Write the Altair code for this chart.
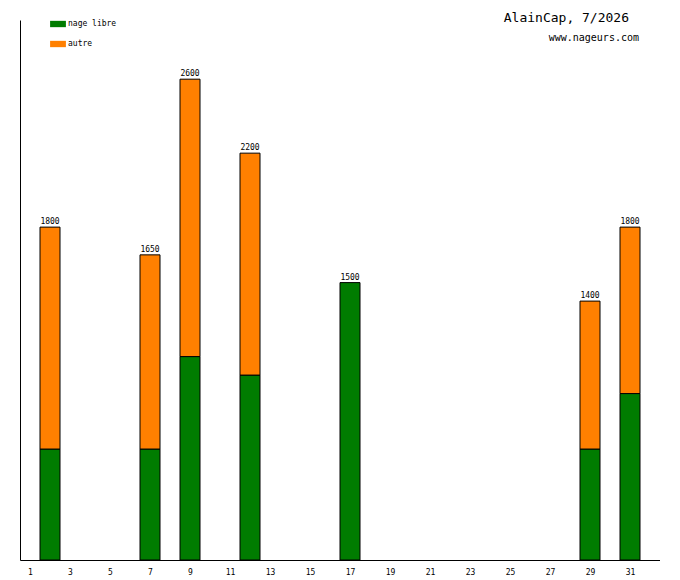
import altair as alt
import pandas as pd

days = [2, 7, 9, 12, 17, 29, 31]
nage_libre = [600, 600, 1100, 1000, 1500, 600, 900]
totals = [1800, 1650, 2600, 2200, 1500, 1400, 1800]
day_labels = list(range(1, 32))

rows = []
for d, g, t in zip(days, nage_libre, totals):
    rows.append({"day": d, "type": "nage libre", "y0": 0, "y1": g, "total": t})
    if t > g:
        rows.append({"day": d, "type": "autre", "y0": g, "y1": t, "total": t})
df = pd.DataFrame(rows)
df["x1"] = df["day"] + 1
tot = pd.DataFrame({"day": days, "total": totals})
tot["mid"] = tot["day"] + 0.5

FONT = "DejaVu Sans Mono"
xs = alt.Scale(domain=[1, 33], nice=False, zero=False)
ys = alt.Scale(domain=[0, 2920], nice=False)

bars = alt.Chart(df).mark_rect(stroke="black", strokeWidth=1).encode(
    x=alt.X("day:Q", scale=xs, title=None,
            axis=alt.Axis(values=[d + 0.5 for d in day_labels], labelExpr="floor(datum.value)",
                          ticks=False, grid=False, domainColor="black", labelFont=FONT,
                          labelFontSize=8, labelColor="black", labelPadding=8)),
    x2="x1:Q",
    y=alt.Y("y0:Q", scale=ys, title=None,
            axis=alt.Axis(labels=False, ticks=False, grid=False, domainColor="black")),
    y2="y1:Q",
    color=alt.Color("type:N", scale=alt.Scale(domain=["nage libre", "autre"], range=["#007c00", "#ff8000"]),
                    legend=alt.Legend(title=None, orient="none", legendX=30, legendY=-4,
                                      symbolType="M-1,-0.4H1V0.4H-1Z", symbolSize=250,
                                      symbolStrokeWidth=0, labelFont=FONT, labelFontSize=8,
                                      rowPadding=8, labelOffset=2)),
)

labels = alt.Chart(tot).mark_text(font=FONT, fontSize=8, dy=-5, color="black").encode(
    x=alt.X("mid:Q", scale=xs), y=alt.Y("total:Q", scale=ys), text="total:Q"
)

title = alt.Chart(pd.DataFrame({"t": ["AlainCap, 7/2026"]})).mark_text(
    font=FONT, fontSize=13, align="right", color="black"
).encode(x=alt.value(609), y=alt.value(-2), text="t:N")
site = alt.Chart(pd.DataFrame({"t": ["www.nageurs.com"]})).mark_text(
    font=FONT, fontSize=10, align="right", color="black"
).encode(x=alt.value(619), y=alt.value(18), text="t:N")

chart = alt.layer(bars, labels, title, site).properties(
    width=640, height=540, autosize=alt.AutoSizeParams(type="none"),
    padding={"left": 12, "top": 12, "right": 0, "bottom": 20},
).configure_view(stroke=None)

chart.save("out.html", embed_options={"renderer": "svg", "actions": False})
